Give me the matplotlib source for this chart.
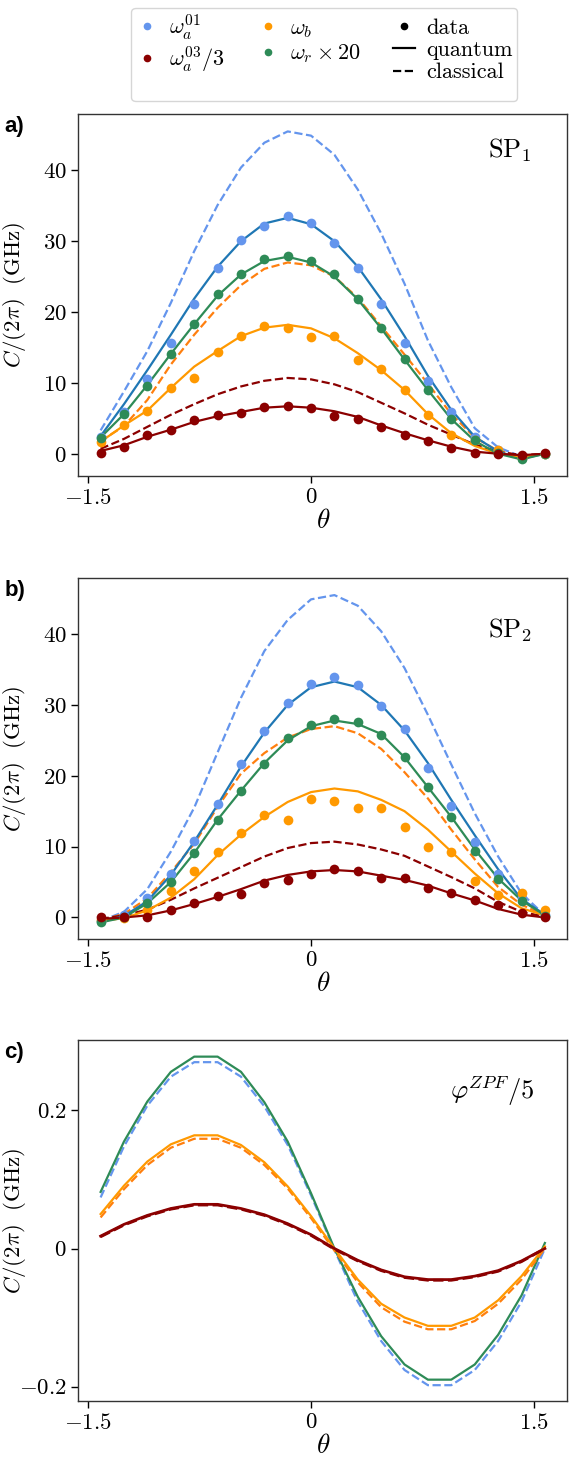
import matplotlib
matplotlib.use("Agg")
import matplotlib.pyplot as plt
from matplotlib.lines import Line2D

plt.rcParams['mathtext.fontset'] = 'cm'
plt.rcParams['font.family'] = 'serif'
plt.rcParams['font.serif'] = ['cmr10']
plt.rcParams['axes.unicode_minus'] = False

# theta grid (same for all panels)
theta = [-1.414, -1.257, -1.100, -0.942, -0.785, -0.628, -0.471, -0.314, -0.157, 0.0,
         0.157, 0.314, 0.471, 0.628, 0.785, 0.942, 1.100, 1.257, 1.414, 1.571]

# ---- panel a (SP1) ----
a_dat_a01 = [2.4, 5.9, 10.5, 15.6, 21.2, 26.2, 30.2, 32.1, 33.5, 32.6, 29.7, 26.2, 21.1, 15.7, 10.2, 5.9, 2.4, 0.5, -0.6, 0.0]
a_dat_a03 = [0.1, 1.0, 2.6, 3.4, 4.8, 5.5, 5.8, 6.6, 6.7, 6.5, 5.4, 4.9, 3.8, 2.6, 1.8, 0.85, 0.15, -0.1, -0.2, 0.1]
a_dat_b = [1.6, 4.1, 6.0, 9.3, 10.7, 14.4, 16.6, 18.0, 17.7, 16.5, 16.6, 13.3, 11.9, 9.0, 5.5, 2.6, 1.9, 0.6, -0.6, 0.0]
a_dat_r = [2.2, 5.6, 9.6, 14.1, 18.3, 22.5, 25.4, 27.5, 27.9, 27.2, 25.4, 21.8, 17.7, 13.4, 9.0, 4.9, 1.9, 0.1, -0.8, 0.0]

a_q_a01 = [2.5, 7.0, 11.8, 16.8, 21.9, 26.4, 30.0, 32.5, 33.3, 32.4, 30.0, 26.4, 21.8, 16.6, 11.0, 6.2, 2.4, 0.3, -0.7, 0.0]
a_q_a03 = [0.4, 1.2, 2.4, 3.4, 4.5, 5.3, 5.9, 6.5, 6.7, 6.5, 6.0, 5.2, 4.0, 2.9, 1.9, 1.0, 0.3, 0.0, -0.2, 0.0]
a_q_b = [1.7, 4.0, 6.1, 9.3, 12.3, 14.5, 16.6, 17.8, 18.2, 17.7, 16.3, 14.2, 11.8, 9.0, 5.6, 2.9, 1.1, 0.0, -0.5, 0.0]
a_q_r = [2.3, 5.6, 9.7, 14.1, 18.3, 22.3, 25.3, 27.2, 27.8, 27.0, 25.0, 21.8, 17.7, 13.3, 9.0, 4.9, 1.8, 0.0, -0.8, 0.0]

a_c_a01 = [3.3, 8.8, 14.5, 21.3, 28.6, 35.1, 40.4, 43.9, 45.5, 44.9, 42.2, 37.3, 31.1, 24.0, 16.0, 9.4, 3.6, 0.9, -0.4, 0.0]
a_c_a03 = [0.7, 2.1, 3.8, 5.5, 7.0, 8.4, 9.5, 10.3, 10.7, 10.5, 9.8, 8.7, 7.2, 5.7, 4.1, 2.7, 1.3, 0.3, -0.2, 0.0]
a_c_b = [1.8, 3.9, 7.6, 12.6, 16.8, 20.6, 23.8, 26.1, 27.0, 26.6, 25.0, 22.0, 18.0, 14.0, 9.9, 5.6, 2.3, 0.4, -0.4, 0.0]

# ---- panel b (SP2) ----
b_dat_a01 = [-0.5, 0.3, 2.7, 6.1, 10.8, 16.0, 21.7, 26.3, 30.3, 32.9, 33.9, 32.8, 29.8, 26.6, 21.1, 15.8, 10.6, 6.1, 2.8, 0.3]
b_dat_a03 = [0.0, 0.0, 0.0, 1.0, 2.0, 3.0, 3.3, 4.9, 5.3, 6.1, 6.8, 6.6, 5.6, 5.6, 4.1, 3.5, 2.45, 1.7, 0.65, 0.0]
b_dat_b = [-0.3, -0.1, 1.0, 3.8, 6.5, 9.3, 11.9, 14.4, 13.7, 16.7, 16.4, 15.4, 15.5, 12.7, 10.0, 9.2, 5.2, 3.2, 3.5, 1.0]
b_dat_r = [-0.7, 0.0, 2.1, 5.0, 9.1, 13.8, 17.9, 21.7, 25.4, 27.2, 28.0, 27.6, 25.8, 22.6, 18.4, 14.2, 9.4, 5.5, 2.35, 0.2]

b_q_a01 = [-0.6, 0.2, 2.3, 6.0, 10.7, 15.9, 21.3, 26.1, 30.0, 32.5, 33.3, 32.5, 30.0, 26.4, 21.8, 16.6, 11.6, 6.8, 2.6, 0.4]
b_q_a03 = [-0.2, 0.0, 0.3, 1.0, 1.9, 2.9, 4.0, 5.2, 6.0, 6.5, 6.7, 6.5, 5.9, 5.3, 4.5, 3.4, 2.4, 1.2, 0.4, 0.0]
b_q_b = [-0.5, -0.1, 1.0, 2.8, 5.4, 8.8, 11.7, 14.2, 16.3, 17.7, 18.2, 17.8, 16.6, 15.0, 12.4, 9.3, 6.2, 3.4, 1.3, 0.3]
b_q_r = [-0.7, 0.0, 2.0, 5.0, 9.1, 13.8, 17.9, 21.8, 25.0, 27.0, 27.8, 27.3, 25.9, 22.6, 18.4, 14.2, 9.6, 5.5, 2.4, 0.3]

b_c_a01 = [-0.5, 0.8, 4.0, 9.3, 15.5, 23.3, 31.0, 37.6, 42.0, 44.9, 45.5, 44.0, 40.4, 35.2, 28.6, 21.6, 14.7, 8.6, 3.4, 0.3]
b_c_a03 = [-0.2, 0.3, 1.1, 2.5, 4.1, 5.6, 7.1, 8.6, 9.8, 10.5, 10.7, 10.3, 9.6, 8.7, 7.2, 5.7, 4.1, 2.2, 0.8, 0.1]
b_c_b = [-0.4, 0.5, 2.7, 6.4, 10.4, 15.6, 20.3, 23.2, 25.4, 26.6, 27.0, 26.0, 23.8, 20.5, 16.8, 12.4, 8.2, 4.3, 1.8, 0.3]

# ---- panel c (phi ZPF / 5) ----
c_q_r = [0.082, 0.155, 0.213, 0.256, 0.278, 0.278, 0.256, 0.212, 0.155, 0.080, 0.0, -0.070, -0.127, -0.168, -0.190, -0.190, -0.168, -0.125, -0.068, 0.008]
c_c_a01 = [0.074, 0.148, 0.207, 0.249, 0.270, 0.270, 0.249, 0.206, 0.150, 0.077, -0.002, -0.077, -0.134, -0.176, -0.198, -0.198, -0.176, -0.134, -0.077, 0.0]
c_q_b = [0.050, 0.091, 0.126, 0.151, 0.164, 0.164, 0.150, 0.125, 0.090, 0.047, 0.0, -0.045, -0.080, -0.100, -0.112, -0.112, -0.100, -0.075, -0.040, 0.003]
c_c_b = [0.045, 0.086, 0.121, 0.146, 0.159, 0.159, 0.146, 0.121, 0.087, 0.044, -0.003, -0.049, -0.085, -0.106, -0.117, -0.117, -0.105, -0.080, -0.045, 0.0]
c_q_a03 = [0.018, 0.035, 0.048, 0.058, 0.064, 0.064, 0.058, 0.049, 0.036, 0.020, 0.0, -0.017, -0.031, -0.041, -0.045, -0.045, -0.040, -0.032, -0.018, 0.0]
c_c_a03 = [0.017, 0.034, 0.047, 0.057, 0.063, 0.063, 0.057, 0.048, 0.035, 0.019, -0.001, -0.018, -0.032, -0.042, -0.046, -0.046, -0.041, -0.033, -0.019, 0.0]

C_A01 = '#6495ed'
C_Q01 = '#1f77b4'
C_A03 = '#8b0000'
C_B = '#ff9900'
C_BD = '#ff7f0e'
C_R = '#2e8b57'

LW = 1.6
MS = 7
FS = 16.5

fig = plt.figure(figsize=(5.81, 14.68), dpi=100)
L, W = 0.135, 0.841
ax_a = fig.add_axes([L, 0.6757, W, 0.2466])
ax_b = fig.add_axes([L, 0.3603, W, 0.2459])
ax_c = fig.add_axes([L, 0.0456, W, 0.2459])


def draw_sp(ax, dat, q, cl):
    d01, d03, db, dr = dat
    q01, q03, qb, qr = q
    c01, c03, cb = cl
    ax.plot(theta, c01, '--', color=C_A01, lw=LW)
    ax.plot(theta, cb, '--', color=C_BD, lw=LW)
    ax.plot(theta, c03, '--', color=C_A03, lw=LW)
    ax.plot(theta, q01, '-', color=C_Q01, lw=LW)
    ax.plot(theta, qb, '-', color=C_B, lw=LW)
    ax.plot(theta, qr, '-', color=C_R, lw=LW)
    ax.plot(theta, q03, '-', color=C_A03, lw=LW)
    ax.plot(theta, d01, 'o', color=C_A01, ms=MS, mec='none')
    ax.plot(theta, db, 'o', color=C_B, ms=MS, mec='none')
    ax.plot(theta, dr, 'o', color=C_R, ms=MS, mec='none')
    ax.plot(theta, d03, 'o', color=C_A03, ms=MS, mec='none')
    ax.set_yticks([0, 10, 20, 30, 40])
    ax.set_yticklabels(['$0$', '$10$', '$20$', '$30$', '$40$'])


draw_sp(ax_a, (a_dat_a01, a_dat_a03, a_dat_b, a_dat_r),
        (a_q_a01, a_q_a03, a_q_b, a_q_r), (a_c_a01, a_c_a03, a_c_b))
draw_sp(ax_b, (b_dat_a01, b_dat_a03, b_dat_b, b_dat_r),
        (b_q_a01, b_q_a03, b_q_b, b_q_r), (b_c_a01, b_c_a03, b_c_b))
ax_a.set_ylim(-3.15, 47.95)
ax_b.set_ylim(-3.05, 47.9)

ax_c.plot(theta, c_c_a01, '--', color=C_A01, lw=LW)
ax_c.plot(theta, c_q_r, '-', color=C_R, lw=LW)
ax_c.plot(theta, c_c_b, '--', color=C_BD, lw=LW)
ax_c.plot(theta, c_q_b, '-', color=C_B, lw=LW)
ax_c.plot(theta, c_c_a03, '--', color=C_A03, lw=LW + 0.4)
ax_c.plot(theta, c_q_a03, '-', color=C_A03, lw=LW + 0.4)
ax_c.set_ylim(-0.221, 0.302)
ax_c.set_yticks([-0.2, 0, 0.2])
ax_c.set_yticklabels(['$-0.2$', '$0$', '$0.2$'])

for ax, lab in zip([ax_a, ax_b, ax_c], ['a)', 'b)', 'c)']):
    ax.set_xlim(-1.563, 1.72)
    ax.set_xticks([-1.5, 0, 1.5])
    ax.set_xticklabels(['$-1.5$', '$0$', '$1.5$'])
    ax.tick_params(labelsize=FS, length=5, width=1.0)
    ax.set_xlabel(r'$\theta$', fontsize=FS + 3, labelpad=1)
    ax.set_ylabel(r'$C/(2\pi)\ \ \mathrm{(GHz)}$', fontsize=FS)
    ax.yaxis.set_label_coords(-0.103, 0.5)
    for s in ax.spines.values():
        s.set_linewidth(1.0)
        s.set_color('#333333')
    ax.text(-0.152, 0.995, lab, transform=ax.transAxes, fontsize=16,
            fontweight='bold', family='Liberation Sans', va='top', ha='left')

ax_a.text(0.883, 0.90, r'$\mathrm{SP}_1$', transform=ax_a.transAxes,
          fontsize=19, ha='center', va='center')
ax_b.text(0.883, 0.856, r'$\mathrm{SP}_2$', transform=ax_b.transAxes,
          fontsize=19, ha='center', va='center')
ax_c.text(0.847, 0.86, r'$\varphi^{ZPF}/5$', transform=ax_c.transAxes,
          fontsize=19, ha='center', va='center')

blank = Line2D([], [], ls='none')
handles = [
    Line2D([], [], marker='o', ls='none', color=C_A01, ms=4.5),
    Line2D([], [], marker='o', ls='none', color=C_A03, ms=4.5),
    blank,
    Line2D([], [], marker='o', ls='none', color=C_B, ms=4.5),
    Line2D([], [], marker='o', ls='none', color=C_R, ms=4.5),
    blank,
    Line2D([], [], marker='o', ls='none', color='black', ms=4.5),
    Line2D([], [], ls='-', color='black', lw=LW),
    Line2D([], [], ls='--', color='black', lw=LW),
]
labels = [r'$\omega_a^{01}$', r'$\omega_a^{03}/3$', ' ',
          r'$\omega_b$', r'$\omega_r\times 20$', ' ',
          'data', 'quantum', 'classical']
fig.legend(handles, labels, ncol=3, loc='upper center',
           bbox_to_anchor=(0.558, 0.9946), borderaxespad=0, fontsize=16,
           handlelength=1.0, handletextpad=0.5, columnspacing=1.45,
           labelspacing=0.12, borderpad=0.2, fancybox=True)

fig.savefig('out.png', dpi=100)
